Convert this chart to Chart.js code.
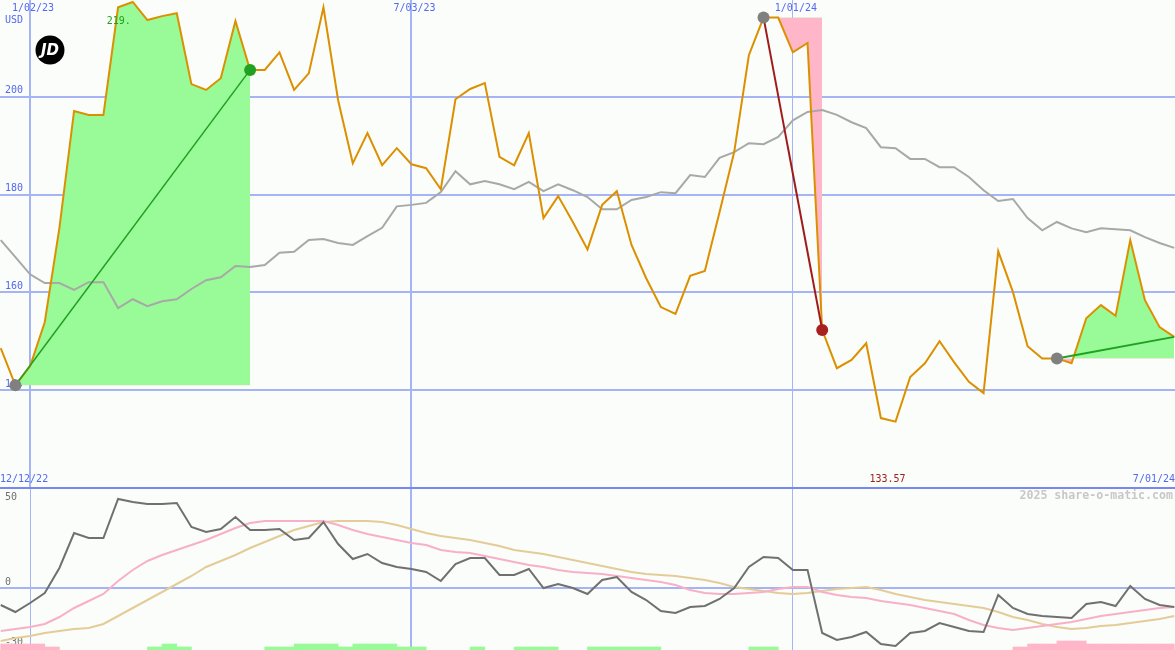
<!DOCTYPE html>
<html>
<head>
<meta charset="utf-8">
<script src="https://cdn.jsdelivr.net/npm/chart.js@4.4.1/dist/chart.umd.min.js"></script>
<style>
  html, body { margin: 0; padding: 0; background: #fafdfa; }
  #wrap { position: relative; width: 1175px; height: 650px; overflow: hidden; }
  canvas { position: absolute; left: 0; }
  #top { top: 0; }
  #bot { top: 487px; }
</style>
</head>
<body>
<div id="wrap">
  <canvas id="top" width="1175" height="487"></canvas>
  <canvas id="bot" width="1175" height="163"></canvas>
</div>
<script>
// weekly closes, index 0 = 12/19/22, index 80 = 7/01/24
const price = [
  148.6, 141.0, 144.9, 153.9, 173.2, 197.1, 196.3, 196.3, 218.3, 219.4,
  215.7, 216.5, 217.1, 202.6, 201.4, 203.8, 215.5, 205.5, 205.5, 209.1,
  201.4, 204.8, 218.3, 199.3, 186.4, 192.6, 186.0, 189.5, 186.2, 185.4,
  181.1, 199.5, 201.6, 202.8, 187.7, 186.0, 192.6, 175.2, 179.7, 174.4,
  168.8, 177.9, 180.7, 169.7, 162.9, 157.0, 155.6, 163.4, 164.4, 176.4,
  188.7, 208.5, 216.2, 216.2, 209.1, 211.0, 152.3, 144.5, 146.2, 149.6,
  134.3, 133.57, 142.7, 145.5, 150.0, 145.7, 141.7, 139.4, 168.4, 160.1,
  149.0, 146.5, 146.5, 145.5, 154.7, 157.4, 155.2, 170.7, 158.4, 152.9,
  150.9
];
const avgLine = [
  170.7, 167.2, 163.7, 161.9, 161.9, 160.5, 162.1, 162.1, 156.8, 158.6,
  157.2, 158.2, 158.6, 160.7, 162.5, 163.1, 165.4, 165.2, 165.6, 168.1,
  168.3, 170.7, 170.9, 170.1, 169.7, 171.5, 173.2, 177.6, 177.9, 178.3,
  180.5, 184.8, 182.1, 182.8, 182.1, 181.1, 182.6, 180.7, 182.1, 180.9,
  179.5, 177.0, 177.0, 178.9, 179.5, 180.5, 180.3, 184.0, 183.6, 187.5,
  188.7, 190.5, 190.3, 191.8, 195.2, 196.9, 197.3, 196.3, 194.8, 193.6,
  189.7, 189.5, 187.3, 187.3, 185.6, 185.6, 183.6, 180.9, 178.7, 179.1,
  175.2, 172.7, 174.4, 173.1, 172.3, 173.1, 172.9, 172.7, 171.3, 170.1,
  169.1
];
const momentum = [
  -8.5, -12, -7.5, -2.5, 10, 27.5, 25, 25, 44.5, 43,
  42, 42, 42.5, 30.5, 28, 29.5, 35.5, 29, 29, 29.5,
  24, 25, 33, 22, 14.5, 17, 12.5, 10.5, 9.5, 8,
  3.5, 12, 15, 15, 6.5, 6.5, 9.5, 0, 2, 0,
  -3, 4, 5.5, -2, -6, -11.5, -12.5, -9.5, -9, -5.5,
  0, 10.5, 15.5, 15, 9, 9, -22.5, -26, -24.5, -22,
  -28, -29, -22.5, -21.5, -17.5, -19.5, -21.5, -22, -3.5, -10,
  -13, -14, -14.5, -15, -8, -7, -9, 1, -5.5, -8.5,
  -9.5
];
const fastAvg = [
  -21.5, -20.5, -19.5, -18, -14.5, -10, -6.5, -3, 3.5, 9,
  13.5, 16.5, 19, 21.5, 24, 27, 30, 32.5, 33.5, 33.5,
  33.5, 33.5, 33.5, 31.5, 29, 27, 25.5, 24, 22.5, 21.5,
  19, 18, 17.5, 16, 14.5, 13, 11.5, 10.5, 9, 8,
  7.5, 7, 6, 5, 4, 3, 1.5, -1, -2.5, -3,
  -3, -2.5, -2, -0.5, 0.5, 0.5, -2, -3.5, -4.5, -5,
  -6.5, -7.5, -8.5, -10, -11.5, -13, -16, -18.5, -20, -21,
  -20, -19, -18, -17, -15.5, -14, -13, -12, -11, -10,
  -9.5
];
const slowAvg = [
  -26.5, -25, -24, -22.5, -21.5, -20.5, -20, -18, -14, -10,
  -6, -2, 2, 6, 10.5, 13.5, 16.5, 20, 23, 26,
  29, 31, 33, 33.5, 33.5, 33.5, 33, 31.5, 29.5, 27.5,
  26, 25, 24, 22.5, 21, 19, 18, 17, 15.5, 14,
  12.5, 11, 9.5, 8, 7, 6.5, 6, 5, 4, 2.5,
  0.5, -0.5, -1.5, -2.5, -3, -2.5, -1.5, -0.5, 0, 0.5,
  -1, -3, -4.5, -6, -7, -8, -9, -10, -12, -14.5,
  -16, -18, -19.5, -20.5, -20, -19, -18.5, -17.5, -16.5, -15.5,
  -14
];
// strength blocks per week: + green, - pink
const blocks = [
  -2, -2, -2, -1, 0, 0, 0, 0, 0, 0,
  1, 2, 1, 0, 0, 0, 0, 0, 1, 1,
  2, 2, 2, 1, 2, 2, 2, 1, 1, 0,
  0, 0, 1, 0, 0, 1, 1, 1, 0, 0,
  1, 1, 1, 1, 1, 0, 0, 0, 0, 0,
  0, 1, 1, 0, 0, 0, 0, 0, 0, 0,
  0, 0, 0, 0, 0, 0, 0, 0, 0, -1,
  -2, -2, -3, -3, -2, -2, -2, -2, -2, -2
];
const priceTicks = [140, 160, 180, 200];
const dateIdx = [2, 28, 54];
const dateText = ["1/02/23", "7/03/23", "1/01/24"];
// trades: [entry, exit]
const trades = [[1, 17], [52, 56], [72, 80]];
const highIdx = 9, lowIdx = 61;

const BLUE = "#5468f0";
const GRID = "#a4b4f4";
const FONT = "10px 'DejaVu Sans Mono', monospace";
const GREEN_FILL = "#98fb98";
const PINK_FILL = "#ffb6c8";

const pts = arr => arr.map((v, i) => ({ x: i, y: v }));

function xScale(thin) {
  return {
    type: "linear", min: -0.05, max: 80.05, offset: false,
    afterBuildTicks: s => { s.ticks = dateIdx.map(v => ({ value: v })); },
    ticks: { display: false },
    grid: { color: GRID, drawTicks: false, offset: false,
      lineWidth: c => (c.tick && thin.includes(c.tick.value)) ? 1 : 2 },
    border: { display: false }
  };
}

// ---------- price panel ----------
const datasets = [];
trades.forEach(([a, b], k) => {
  const base = price[a];
  const up = price[b] >= base;
  datasets.push({
    data: pts(price).slice(a, b + 1),
    borderWidth: 0, borderColor: "rgba(0,0,0,0)", pointRadius: 0,
    fill: { target: { value: base }, above: GREEN_FILL, below: PINK_FILL },
    order: 10
  });
  datasets.push({
    data: [{ x: a, y: price[a] }, { x: b, y: price[b] }],
    borderColor: up ? "#22a022" : "#a01c1c", borderWidth: k === 0 ? 1.5 : 2,
    pointRadius: 0, fill: false, order: 3
  });
});
datasets.push({ data: pts(avgLine), borderColor: "#a8a8a8", borderWidth: 2, pointRadius: 0, fill: false, order: 8 });
datasets.push({ data: pts(price), borderColor: "#dc9000", borderWidth: 2, pointRadius: 0, fill: false, order: 5 });

const dots = [], dotColors = [];
trades.forEach(([a, b]) => {
  dots.push({ x: a, y: price[a] }); dotColors.push("#808080");
  if (b < 80) {
    dots.push({ x: b, y: price[b] });
    dotColors.push(price[b] >= price[a] ? "#22a022" : "#a82020");
  }
});
datasets.push({ data: dots, showLine: false, pointRadius: 6, pointBorderWidth: 0,
  pointBackgroundColor: dotColors, order: 1 });

const topText = {
  id: "topText",
  beforeDatasetsDraw(chart) {
    const { ctx, scales: { y } } = chart;
    ctx.save();
    ctx.font = FONT; ctx.fillStyle = BLUE; ctx.textBaseline = "middle"; ctx.textAlign = "left";
    priceTicks.forEach(v => ctx.fillText(String(v), 5, y.getPixelForValue(v) - 6));
    ctx.fillText("USD", 5, 20);
    ctx.restore();
  },
  afterDatasetsDraw(chart) {
    const { ctx, scales: { x } } = chart;
    ctx.save();
    ctx.font = FONT; ctx.textBaseline = "middle"; ctx.textAlign = "center"; ctx.fillStyle = BLUE;
    dateIdx.forEach((d, i) => ctx.fillText(dateText[i], x.getPixelForValue(d) + 3, 8));
    ctx.textAlign = "left"; ctx.fillText("12/12/22", 0, 479);
    ctx.textAlign = "right"; ctx.fillText("7/01/24", 1175, 479);
    ctx.textAlign = "center";
    ctx.fillStyle = "#a02020";
    ctx.fillText(price[lowIdx].toFixed(2), x.getPixelForValue(lowIdx) - 8, 479);
    ctx.fillStyle = "#22a022";
    ctx.fillText(String(Math.floor(price[highIdx])) + ".", x.getPixelForValue(highIdx) - 14, 21);
    // logo
    ctx.fillStyle = "#000";
    ctx.beginPath(); ctx.arc(50, 50, 14.5, 0, Math.PI * 2); ctx.fill();
    ctx.fillStyle = "#fff";
    ctx.font = "italic bold 15px 'DejaVu Sans', sans-serif";
    ctx.fillText("JD", 50, 51);
    ctx.restore();
  }
};

new Chart(document.getElementById("top"), {
  type: "line",
  data: { datasets },
  options: {
    responsive: false, animation: false, devicePixelRatio: 1, events: [],
    layout: { padding: 0, autoPadding: false },
    elements: { line: { tension: 0 } },
    plugins: { legend: { display: false }, tooltip: { enabled: false } },
    scales: {
      x: xScale([54]),
      y: {
        min: 120.2, max: 219.8,
        afterBuildTicks: s => { s.ticks = priceTicks.map(v => ({ value: v })); },
        ticks: { display: false },
        grid: { color: GRID, lineWidth: 2, drawTicks: false },
        border: { display: false }
      }
    }
  },
  plugins: [topText]
});

// ---------- oscillator panel ----------
const barData = [], barColors = [];
blocks.forEach((b, i) => {
  if (!b) return;
  barData.push({ x: i + 0.5, y: [-31, -31 + Math.abs(b) * 1.5] });
  barColors.push(b > 0 ? GREEN_FILL : PINK_FILL);
});

const botText = {
  id: "botText",
  beforeDatasetsDraw(chart) {
    const { ctx, scales: { y } } = chart;
    ctx.save();
    ctx.font = FONT; ctx.fillStyle = "#707070"; ctx.textBaseline = "middle"; ctx.textAlign = "left";
    [50, 0, -30].forEach(v => ctx.fillText(String(v), 5, Math.max(10, y.getPixelForValue(v) - 6)));
    ctx.restore();
  },
  afterDraw(chart) {
    const { ctx } = chart;
    ctx.save();
    ctx.fillStyle = "#7888f0";
    ctx.fillRect(0, 0, 1175, 2);
    ctx.font = "bold 11.6px 'DejaVu Sans Mono', monospace";
    ctx.fillStyle = "#c8c8c8"; ctx.textAlign = "right"; ctx.textBaseline = "middle";
    ctx.fillText("2025 share-o-matic.com", 1173, 9);
    ctx.restore();
  }
};

new Chart(document.getElementById("bot"), {
  type: "line",
  data: {
    datasets: [
      { type: "bar", data: barData, backgroundColor: barColors, borderWidth: 0,
        barPercentage: 1, categoryPercentage: 1, order: 10 },
      { data: pts(slowAvg), borderColor: "#e4cc98", borderWidth: 2, pointRadius: 0, fill: false, order: 6 },
      { data: pts(fastAvg), borderColor: "#f8b0c8", borderWidth: 2, pointRadius: 0, fill: false, order: 5 },
      { data: pts(momentum), borderColor: "#707070", borderWidth: 2, pointRadius: 0, fill: false, order: 4 }
    ]
  },
  options: {
    responsive: false, animation: false, devicePixelRatio: 1, events: [],
    layout: { padding: 0, autoPadding: false },
    elements: { line: { tension: 0 } },
    plugins: { legend: { display: false }, tooltip: { enabled: false } },
    scales: {
      x: xScale([2, 54]),
      y: {
        min: -31, max: 50.5,
        afterBuildTicks: s => { s.ticks = [{ value: 0 }]; },
        ticks: { display: false },
        grid: { color: GRID, lineWidth: 2, drawTicks: false },
        border: { display: false }
      }
    }
  },
  plugins: [botText]
});
</script>
</body>
</html>
